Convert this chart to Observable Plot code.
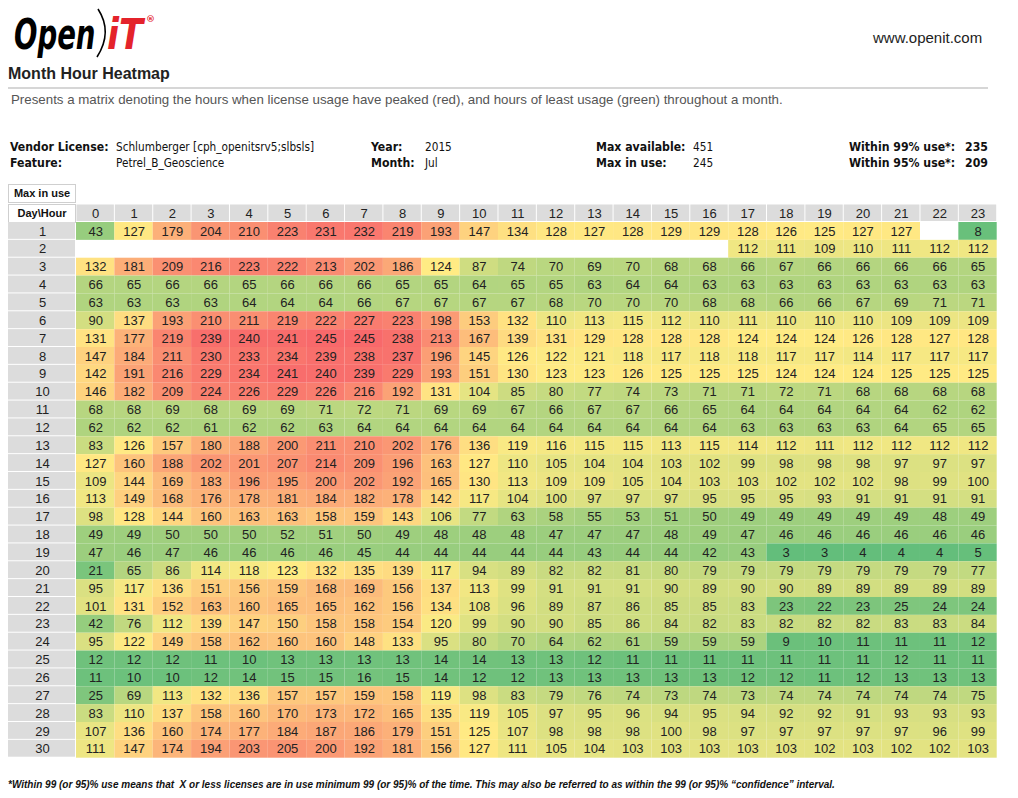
<!DOCTYPE html>
<html>
<head>
<meta charset="utf-8">
<script src="https://cdn.jsdelivr.net/npm/d3@7"></script>
<script src="https://cdn.jsdelivr.net/npm/@observablehq/plot@0.6"></script>
<style>
  html, body { margin: 0; padding: 0; background: #fff; }
  body { width: 1018px; height: 798px; position: relative; overflow: hidden;
         font-family: "Liberation Sans", Arial, sans-serif; color: #111; }
  .abs { position: absolute; white-space: nowrap; }
  .info { font-family: "DejaVu Sans Condensed", "DejaVu Sans", sans-serif; font-size: 11.7px; color: #111; }
  .info b { font-weight: bold; font-size: 12.2px; }
  .box { position: absolute; box-sizing: border-box; border: 1px solid #cfcfcf; background: #fff;
         font-weight: bold; font-size: 11px; text-align: center; line-height: 17px; }
  #chart { position: absolute; left: 0; top: 200px; }
</style>
</head>
<body>
<svg class="abs" style="left:0;top:0" width="170" height="66">
  <text transform="translate(14,49) scale(0.73,1)" font-family="DejaVu Sans Condensed, DejaVu Sans, sans-serif" font-size="42" font-weight="bold" font-style="italic" fill="#000">Open</text>
  <path d="M98,9 Q113,32 97,57" stroke="#000" stroke-width="1.6" fill="none"/>
  <text transform="translate(107,49) scale(0.93,1)" font-family="DejaVu Sans Condensed, DejaVu Sans, sans-serif" font-size="42" font-weight="bold" font-style="italic" fill="#e4232b">iT</text>
  <text x="146" y="22" font-family="DejaVu Sans, sans-serif" font-size="9" font-weight="bold" fill="#e4232b">®</text>
</svg>
<div class="abs" style="left:873px;top:29px;font-size:15px;color:#222">www.openit.com</div>
<div class="abs" style="left:8px;top:65px;font-size:16px;font-weight:bold;color:#222">Month Hour Heatmap</div>
<div class="abs" style="left:8px;top:87px;width:980px;height:2px;background:#d6d6d6"></div>
<div class="abs" style="left:11px;top:92px;font-size:13.3px;color:#555">Presents a matrix denoting the hours when license usage have peaked (red), and hours of least usage (green) throughout a month.</div>

<div class="abs info" style="left:10px;top:140px"><b>Vendor License:</b></div>
<div class="abs info" style="left:116px;top:140px">Schlumberger [cph_openitsrv5;slbsls]</div>
<div class="abs info" style="left:10px;top:156px"><b>Feature:</b></div>
<div class="abs info" style="left:116px;top:156px">Petrel_B_Geoscience</div>
<div class="abs info" style="left:371px;top:140px"><b>Year:</b></div>
<div class="abs info" style="left:425px;top:140px">2015</div>
<div class="abs info" style="left:371px;top:156px"><b>Month:</b></div>
<div class="abs info" style="left:425px;top:156px">Jul</div>
<div class="abs info" style="left:596px;top:140px"><b>Max available:</b></div>
<div class="abs info" style="left:693px;top:140px">451</div>
<div class="abs info" style="left:596px;top:156px"><b>Max in use:</b></div>
<div class="abs info" style="left:693px;top:156px">245</div>
<div class="abs info" style="left:849px;top:140px"><b>Within 99% use*:</b></div>
<div class="abs info" style="left:965px;top:140px"><b>235</b></div>
<div class="abs info" style="left:849px;top:156px"><b>Within 95% use*:</b></div>
<div class="abs info" style="left:965px;top:156px"><b>209</b></div>

<div class="box" style="left:8px;top:184px;width:68px;height:19px">Max in use</div>
<div class="box" style="left:8px;top:204px;width:68px;height:19px">Day\Hour</div>

<div id="chart"></div>

<div class="abs" style="left:8px;top:779px;font-size:10px;font-weight:bold;font-style:italic;color:#111">*Within 99 (or 95)% use means that&nbsp; X or less licenses are in use minimum 99 (or 95)% of the time. This may also be referred to as within the 99 (or 95)% “confidence” interval.</div>

<script>
// ---- data ----
const hours = d3.range(0, 24);
const days = d3.range(1, 31);
// max licenses in use, one row per day (1..30), one value per hour (0..23); null = no data
const maxInUse = [
  [43,127,179,204,210,223,231,232,219,193,147,134,128,127,128,129,129,128,126,125,127,127,null,8],
  [null,null,null,null,null,null,null,null,null,null,null,null,null,null,null,null,null,112,111,109,110,111,112,112],
  [132,181,209,216,223,222,213,202,186,124,87,74,70,69,70,68,68,66,67,66,66,66,66,65],
  [66,65,66,66,65,66,66,66,65,65,64,65,65,63,64,64,63,63,63,63,63,63,63,63],
  [63,63,63,63,64,64,64,66,67,67,67,67,68,70,70,70,68,68,66,66,67,69,71,71],
  [90,137,193,210,211,219,222,227,223,198,153,132,110,113,115,112,110,111,110,110,110,109,109,109],
  [131,177,219,239,240,241,245,245,238,213,167,139,131,129,128,128,128,124,124,124,126,128,127,128],
  [147,184,211,230,233,234,239,238,237,196,145,126,122,121,118,117,118,118,117,117,114,117,117,117],
  [142,191,216,229,234,241,240,239,229,193,151,130,123,123,126,125,125,125,124,124,124,125,125,125],
  [146,182,209,224,226,229,226,216,192,131,104,85,80,77,74,73,71,71,72,71,68,68,68,68],
  [68,68,69,68,69,69,71,72,71,69,69,67,66,67,67,66,65,64,64,64,64,64,62,62],
  [62,62,62,61,62,62,63,64,64,64,64,64,64,64,64,64,64,63,63,63,63,64,65,65],
  [83,126,157,180,188,200,211,210,202,176,136,119,116,115,115,113,115,114,112,111,112,112,112,112],
  [127,160,188,202,201,207,214,209,196,163,127,110,105,104,104,103,102,99,98,98,98,97,97,97],
  [109,144,169,183,196,195,200,202,192,165,130,113,109,109,105,104,103,103,102,102,102,98,99,100],
  [113,149,168,176,178,181,184,182,178,142,117,104,100,97,97,97,95,95,95,93,91,91,91,91],
  [98,128,144,160,163,163,158,159,143,106,77,63,58,55,53,51,50,49,49,49,49,49,48,49],
  [49,49,50,50,50,52,51,50,49,48,48,48,47,47,47,48,49,47,46,46,46,46,46,46],
  [47,46,47,46,46,46,46,45,44,44,44,44,44,43,44,44,42,43,3,3,4,4,4,5],
  [21,65,86,114,118,123,132,135,139,117,94,89,82,82,81,80,79,79,79,79,79,79,79,77],
  [95,117,136,151,156,159,168,169,156,137,113,99,91,91,91,90,89,90,90,89,89,89,89,89],
  [101,131,152,163,160,165,165,162,156,134,108,96,89,87,86,85,85,83,23,22,23,25,24,24],
  [42,76,112,139,147,150,158,158,154,120,99,90,90,85,86,84,82,83,82,82,82,83,83,84],
  [95,122,149,158,162,160,160,148,133,95,80,70,64,62,61,59,59,59,9,10,11,11,11,12],
  [12,12,12,11,10,13,13,13,13,14,14,13,13,12,11,11,11,11,11,11,11,12,11,11],
  [11,10,10,12,14,15,15,16,15,14,12,12,13,13,13,13,13,12,12,11,12,13,13,13],
  [25,69,113,132,136,157,157,159,158,119,98,83,79,76,74,73,74,73,74,74,74,74,74,75],
  [83,110,137,158,160,170,173,172,165,135,119,105,97,95,96,94,95,94,92,92,91,93,93,93],
  [107,136,160,174,177,184,187,186,179,151,125,107,98,98,98,100,98,97,97,97,97,97,96,99],
  [111,147,174,194,203,205,200,192,181,156,127,111,105,104,103,103,103,103,103,102,103,102,102,103]
];
const scaleColors = ["#63BE7B", "#FFEB84", "#F8696B"]; // low (green), mid (yellow), high (red)

// ---- build table ----
const cells = [];
days.forEach((day, i) => hours.forEach((hour, j) => {
  const v = maxInUse[i][j];
  if (v != null) cells.push({day, hour, value: v});
}));
const [lo, hi] = d3.extent(cells, d => d.value);

// header backgrounds (hour row & day column) drawn with Plot's scales
function headerBackground(index, scales, values, dimensions) {
  const x = scales.x, y = scales.y;
  const bx = x.bandwidth(), by = y.bandwidth();
  const g = d3.create("svg:g");
  g.append("g").selectAll("rect").data(hours).join("rect")
    .attr("x", h => x(h) + 0.5).attr("y", 4.5)
    .attr("width", bx - 1).attr("height", dimensions.marginTop - 4.5 - 1)
    .attr("fill", "#dcdcdc");
  g.append("g").selectAll("rect").data(days).join("rect")
    .attr("x", 8).attr("y", d => y(d))
    .attr("width", dimensions.marginLeft - 8 - 1).attr("height", by - 1)
    .attr("fill", "#dcdcdc");
  return g.node();
}

const chart = Plot.plot({
  width: 1018,
  height: 560,
  marginLeft: 76,
  marginRight: 21.3,
  marginTop: 22,
  marginBottom: 2.3,
  style: {fontFamily: "Liberation Sans, Arial, sans-serif", fontSize: "13px", color: "#222", background: "transparent"},
  x: {type: "band", domain: hours, padding: 0, round: false, label: null},
  y: {type: "band", domain: days, padding: 0, round: false, label: null},
  color: {type: "linear", domain: [lo, (lo + hi) / 2, hi], range: scaleColors, interpolate: "rgb"},
  marks: [
    headerBackground,
    Plot.cell(cells, {x: "hour", y: "day", fill: "value"}),
    Plot.text(cells, {x: "hour", y: "day", text: d => String(d.value), fill: "#222", fontSize: 13}),
    Plot.axisX({anchor: "top", tickSize: 0, tickPadding: 9, lineAnchor: "middle", fontSize: 13, fill: "#222", label: null}),
    Plot.axisY({anchor: "left", tickSize: 0, tickPadding: 34, textAnchor: "middle", fontSize: 13, fill: "#222", label: null})
  ]
});
document.getElementById("chart").appendChild(chart);
</script>
</body>
</html>
